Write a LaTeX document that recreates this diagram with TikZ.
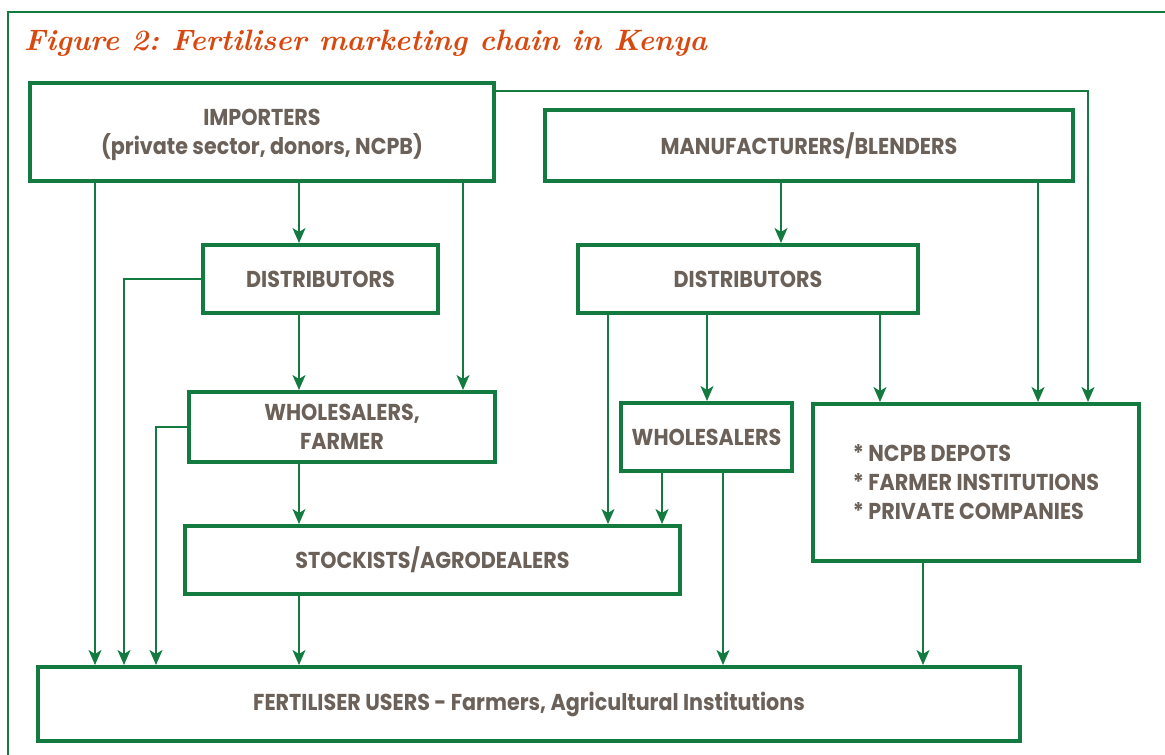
\documentclass[tikz,border=0pt]{standalone}
\usepackage{fontspec}
\usetikzlibrary{arrows.meta}
\newfontfamily\boxfont{Poppins}[FakeStretch=0.9]
\definecolor{chaingreen}{HTML}{137B40}
\definecolor{boxtext}{HTML}{6B6159}
\definecolor{titleorange}{HTML}{D9480F}
\frenchspacing

\begin{document}
\begin{tikzpicture}[x=1pt,y=-1pt,
  stage/.style={draw=chaingreen, line width=4pt, inner sep=0pt, text=boxtext,
    font=\boxfont\bfseries\fontsize{23}{29}\selectfont, align=center},
  flow/.style={draw=chaingreen, line width=1.6pt,
    -{Stealth[length=15pt,width=13pt,inset=4pt]}}]
\useasboundingbox (0,0) rectangle (1165,755);

% outer frame
\draw[chaingreen, line width=2.5pt] (1170,12) -- (8,12) -- (8,760);

% title
\node[anchor=base west, text=titleorange, inner sep=0pt,
  font=\bfseries\itshape\fontsize{29.5}{32}\selectfont] (title) at (24,50)
  {Figure 2: Fertiliser marketing chain in Kenya};

% stages of the chain
\node[stage, minimum width=464pt, minimum height=98pt] (imp) at (262,132)
  {\\[-6pt]IMPORTERS\\(private sector, donors, NCPB)};
\node[stage, minimum width=528pt, minimum height=71pt] (mfr) at (809,145.5)
  {MANUFACTURERS/BLENDERS};
\node[stage, minimum width=235pt, minimum height=68pt] (dl) at (320.5,279)
  {DISTRIBUTORS};
\node[stage, minimum width=340pt, minimum height=68pt] (dr) at (748,279)
  {DISTRIBUTORS};
\node[stage, minimum width=306pt, minimum height=70pt] (wf) at (342,427)
  {WHOLESALERS,\\FARMER};
\node[stage, minimum width=171pt, minimum height=68pt] (wr) at (706.5,437)
  {WHOLESALERS};
\node[stage, minimum width=326pt, minimum height=157pt, align=left] (ncpb) at (976,482.5)
  {* NCPB DEPOTS\\* FARMER INSTITUTIONS\\* PRIVATE COMPANIES};
\node[stage, minimum width=495pt, minimum height=68pt] (st) at (432.5,560)
  {STOCKISTS/AGRODEALERS};
\node[stage, minimum width=982pt, minimum height=74pt] (us) at (529,704)
  {FERTILISER USERS - Farmers, Agricultural Institutions};

% columns of the connectors
\coordinate (c95) at (95,0);
\coordinate (c124) at (124,0);
\coordinate (c156) at (156,0);
\coordinate (c299) at (299,0);
\coordinate (c463) at (463,0);
\coordinate (c608) at (608,0);
\coordinate (c662) at (662,0);
\coordinate (c707) at (707,0);
\coordinate (c723) at (723,0);
\coordinate (c781) at (781,0);
\coordinate (c880) at (880,0);
\coordinate (c923) at (923,0);
\coordinate (c1038) at (1038,0);
\coordinate (topwire) at (1088,91);

% importers
\draw[flow] (imp.south -| c95) -- (us.north -| c95);
\draw[flow] (imp.south -| c299) -- (dl.north -| c299);
\draw[flow] (imp.south -| c463) -- (wf.north -| c463);
\draw[flow] (imp.east |- topwire) -- (topwire) -- (ncpb.north -| topwire);

% distributors (left)
\draw[flow] (dl.west) -- (dl.west -| c124) -- (us.north -| c124);
\draw[flow] (dl.south -| c299) -- (wf.north -| c299);

% wholesalers, farmer
\draw[flow] (wf.west) -- (wf.west -| c156) -- (us.north -| c156);
\draw[flow] (wf.south -| c299) -- (st.north -| c299);

% stockists
\draw[flow] (st.south -| c299) -- (us.north -| c299);

% manufacturers
\draw[flow] (mfr.south -| c781) -- (dr.north -| c781);
\draw[flow] (mfr.south -| c1038) -- (ncpb.north -| c1038);

% distributors (right)
\draw[flow] (dr.south -| c608) -- (st.north -| c608);
\draw[flow] (dr.south -| c707) -- (wr.north -| c707);
\draw[flow] (dr.south -| c880) -- (ncpb.north -| c880);

% wholesalers (right)
\draw[flow] (wr.south -| c662) -- (st.north -| c662);
\draw[flow] (wr.south -| c723) -- (us.north -| c723);

% depots, institutions, companies
\draw[flow] (ncpb.south -| c923) -- (us.north -| c923);
\end{tikzpicture}
\end{document}
